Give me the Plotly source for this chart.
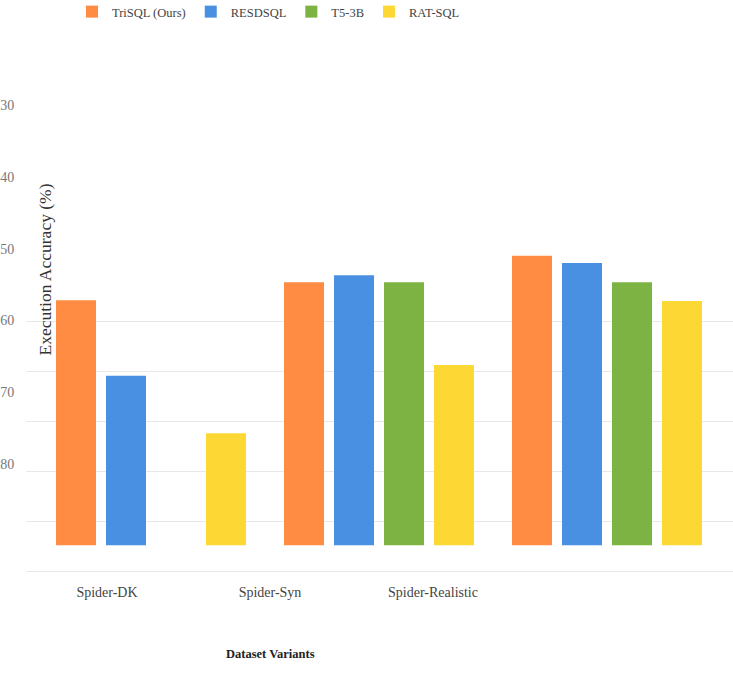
import plotly.graph_objects as go

categories = ["Spider-DK", "Spider-Syn", "Spider-Realistic"]
series_names = ["TriSQL (Ours)", "RESDSQL", "T5-3B", "RAT-SQL"]
trisql = [57.2, 54.7, 51.0]
resdsql = [67.7, 53.7, 52.0]
t5_3b = [None, 54.7, 54.7]
rat_sql = [75.7, 66.2, 57.3]
bar_base = 91.3
y_tick_values = [30, 40, 50, 60, 70, 80]
colors = ["#FF8C42", "#4A90E2", "#7CB342", "#FDD835"]

W, H = 733, 689
L, R, T, B = 26, 0, 50, 118
plot_w = W - L - R
plot_h = H - T - B
FONT = "Liberation Serif"

fig = go.Figure()
for name, vals, col in zip(series_names, [trisql, resdsql, t5_3b, rat_sql], colors):
    fig.add_trace(go.Bar(
        name=name,
        x=categories,
        y=[(v - bar_base) if v is not None else None for v in vals],
        base=[bar_base] * len(vals),
        marker=dict(color=col, line=dict(width=0)),
        xaxis="x", yaxis="y",
        hoverinfo="skip",
    ))

# helper (invisible) trace so the label axis x2 / grid axis y2 get drawn
fig.add_trace(go.Scatter(
    x=list(range(len(categories))), y=[None] * len(categories),
    xaxis="x2", yaxis="y2", mode="none", showlegend=False, hoverinfo="skip",
))

bar_center0, bar_step = 151, 228
lab_center0, lab_step = 107, 163

fig.update_layout(
    width=W, height=H,
    margin=dict(l=L, r=R, t=T, b=B, autoexpand=False),
    plot_bgcolor="white", paper_bgcolor="white",
    barmode="group", bargap=0.123, bargroupgap=0.2,
    font=dict(family=FONT, color="#444"),
    showlegend=True,
    legend=dict(orientation="h", x=(72 - L) / plot_w, xanchor="left", y=1 + (T + 3) / plot_h,
                yanchor="top", font=dict(size=12.5, color="#444", family=FONT),
                bgcolor="rgba(0,0,0,0)"),
    xaxis=dict(
        range=[(L - bar_center0) / bar_step, (W - R - bar_center0) / bar_step],
        showticklabels=False, showgrid=False, zeroline=False, showline=False,
    ),
    xaxis2=dict(
        overlaying="x", anchor="y2", side="bottom",
        range=[(L - lab_center0) / lab_step, (W - R - lab_center0) / lab_step],
        tickmode="array", tickvals=list(range(len(categories))), ticktext=categories,
        tickfont=dict(size=14, color="#444", family=FONT),
        ticks="outside", ticklen=8, tickcolor="rgba(0,0,0,0)",
        showgrid=False, zeroline=False, showline=True, linecolor="#e8e8e8", linewidth=1,
    ),
    yaxis=dict(
        range=[30 + (T + plot_h - 105) / 7.18, 30 + (T - 105) / 7.18],
        tickmode="array", tickvals=y_tick_values,
        tickfont=dict(size=14, color="#777", family=FONT),
        ticks="outside", ticklen=8, tickcolor="rgba(0,0,0,0)",
        showgrid=False, zeroline=False, showline=False,
    ),
    yaxis2=dict(
        overlaying="y", anchor="x2", side="left",
        range=[0, plot_h / 50],
        tickmode="array", tickvals=[1, 2, 3, 4, 5],
        showticklabels=False, showgrid=True, gridcolor="#e8e8e8", gridwidth=1,
        zeroline=False, showline=False,
    ),
)

fig.add_annotation(
    text="Execution Accuracy (%)", textangle=-90,
    xref="paper", yref="paper", xanchor="center", yanchor="middle",
    x=(44.5 - L) / plot_w, y=(T + plot_h - 270) / plot_h,
    showarrow=False, font=dict(size=17.5, color="#333", family=FONT),
)
fig.add_annotation(
    text="<b>Dataset Variants</b>",
    xref="paper", yref="paper", xanchor="center", yanchor="middle",
    x=(270 - L) / plot_w, y=(T + plot_h - 654) / plot_h,
    showarrow=False, font=dict(size=12.5, color="#222", family=FONT),
)

fig.write_html("out.html")
